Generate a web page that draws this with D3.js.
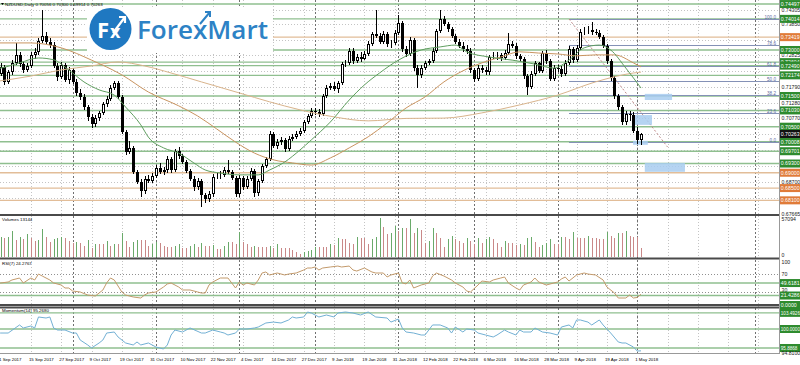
<!DOCTYPE html>
<html><head><meta charset="utf-8">
<script src="https://cdn.jsdelivr.net/npm/d3@7/dist/d3.min.js"></script>
<style>
body{margin:0;background:#fff;}
svg{display:block;font-family:"Liberation Sans",Arial,sans-serif;}
</style></head><body>
<svg id="c" width="800" height="365"></svg>
<script>
// ---------------- DATA ----------------
const symbolTitle = "NZDUSD,Daily";
const lastOHLC = ["0.70056","0.70300","0.69914","0.70263"];
const firstOpen = 0.7245;
const closes = [
0.7235,0.7222,0.7245,0.7196,0.7228,0.7258,0.7284,0.7254,0.7235,0.7248,
0.7284,0.7293,0.7329,0.7346,0.7326,0.7316,0.7248,0.7212,0.7251,0.7202,
0.7235,0.7196,0.7160,0.7147,0.7114,0.7082,0.7059,0.7078,0.7095,0.7124,
0.7140,0.7176,0.7192,0.7147,0.7033,0.6967,0.6981,0.6902,0.6870,0.6840,
0.6880,0.6873,0.6889,0.6915,0.6902,0.6909,0.6945,0.6909,0.6971,0.6954,
0.6935,0.6906,0.6880,0.6853,0.6873,0.6827,0.6814,0.6831,0.6886,0.6889,
0.6893,0.6909,0.6902,0.6883,0.6831,0.6883,0.6853,0.6880,0.6906,0.6834,
0.6873,0.6922,0.6945,0.7026,0.6987,0.7000,0.7007,0.6977,0.7010,0.7016,
0.7026,0.7036,0.7065,0.7085,0.7101,0.7098,0.7091,0.7150,0.7176,0.7183,
0.7173,0.7192,0.7254,0.7258,0.7297,0.7264,0.7277,0.7270,0.7287,0.7320,
0.7352,0.7346,0.7326,0.7352,0.7320,0.7323,0.7355,0.7388,0.7303,0.7287,
0.7333,0.7241,0.7219,0.7241,0.7258,0.7264,0.7297,0.7362,0.7401,0.7385,
0.7369,0.7346,0.7326,0.7313,0.7303,0.7297,0.7235,0.7206,0.7241,0.7235,
0.7228,0.7277,0.7280,0.7283,0.7274,0.7290,0.7320,0.7313,0.7280,0.7271,
0.7215,0.7179,0.7222,0.7258,0.7232,0.7290,0.7264,0.7206,0.7241,0.7238,
0.7222,0.7258,0.7303,0.7267,0.7307,0.7359,0.7362,0.7365,0.7359,0.7356,
0.7342,0.7313,0.7264,0.7209,0.7150,0.7114,0.7065,0.7091,0.7088,0.7036,
0.7006,0.70263];
const highs = [
0.7262,0.7248,0.7256,0.7252,0.7236,0.7266,0.7322,0.7295,0.7262,0.7258,
0.7292,0.7305,0.7340,0.7430,0.7360,0.7340,0.7325,0.7258,0.7262,0.7258,
0.7245,0.7242,0.7205,0.7172,0.7155,0.7120,0.7090,0.7088,0.7102,0.7132,
0.7150,0.7185,0.7200,0.7198,0.7152,0.7040,0.7005,0.6988,0.6910,0.6878,
0.6888,0.6892,0.6898,0.6925,0.6932,0.6920,0.6955,0.6952,0.6978,0.6985,
0.6962,0.6940,0.6912,0.6888,0.6882,0.6880,0.6835,0.6840,0.6895,0.6898,
0.6905,0.6918,0.6942,0.6910,0.6890,0.6892,0.6890,0.6888,0.6915,0.6912,
0.6880,0.6930,0.6952,0.7035,0.7032,0.7010,0.7018,0.7012,0.7020,0.7025,
0.7035,0.7045,0.7072,0.7092,0.7110,0.7112,0.7108,0.7158,0.7185,0.7192,
0.7195,0.7200,0.7262,0.7268,0.7305,0.7305,0.7288,0.7292,0.7298,0.7328,
0.7360,0.7430,0.7355,0.7362,0.7360,0.7332,0.7365,0.7415,0.7395,0.7312,
0.7342,0.7340,0.7250,0.7250,0.7265,0.7272,0.7305,0.7370,0.7430,0.7410,
0.7392,0.7375,0.7352,0.7335,0.7325,0.7315,0.7305,0.7242,0.7250,0.7252,
0.7245,0.7285,0.7295,0.7292,0.7290,0.7300,0.7355,0.7330,0.7322,0.7288,
0.7278,0.7222,0.7230,0.7265,0.7262,0.7298,0.7300,0.7270,0.7250,0.7252,
0.7248,0.7266,0.7312,0.7310,0.7316,0.7368,0.7375,0.7378,0.7391,0.7370,
0.7365,0.7348,0.7320,0.7270,0.7215,0.7158,0.7120,0.7100,0.7102,0.7098,
0.7048,0.70300];
const lows = [
0.7224,0.7210,0.7215,0.7185,0.7190,0.7220,0.7250,0.7245,0.7226,0.7228,
0.7240,0.7272,0.7285,0.7322,0.7318,0.7305,0.7240,0.7200,0.7205,0.7195,
0.7190,0.7188,0.7150,0.7138,0.7105,0.7070,0.7045,0.7050,0.7070,0.7088,
0.7115,0.7133,0.7168,0.7140,0.7025,0.6958,0.6960,0.6895,0.6862,0.6822,
0.6832,0.6865,0.6866,0.6882,0.6895,0.6893,0.6900,0.6900,0.6902,0.6945,
0.6928,0.6898,0.6872,0.6842,0.6845,0.6788,0.6800,0.6805,0.6822,0.6878,
0.6880,0.6885,0.6895,0.6875,0.6822,0.6820,0.6845,0.6848,0.6872,0.6820,
0.6825,0.6866,0.6915,0.6938,0.6980,0.6978,0.6992,0.6968,0.6970,0.7002,
0.7010,0.7020,0.7030,0.7058,0.7078,0.7088,0.7082,0.7085,0.7142,0.7168,
0.7165,0.7160,0.7185,0.7245,0.7250,0.7255,0.7256,0.7262,0.7268,0.7280,
0.7312,0.7338,0.7318,0.7320,0.7310,0.7305,0.7315,0.7348,0.7295,0.7278,
0.7280,0.7232,0.7176,0.7210,0.7235,0.7250,0.7258,0.7290,0.7355,0.7378,
0.7360,0.7338,0.7318,0.7305,0.7295,0.7288,0.7225,0.7195,0.7200,0.7225,
0.7218,0.7220,0.7270,0.7268,0.7265,0.7268,0.7285,0.7305,0.7272,0.7262,
0.7205,0.7153,0.7172,0.7215,0.7225,0.7225,0.7255,0.7198,0.7198,0.7228,
0.7212,0.7215,0.7250,0.7258,0.7260,0.7300,0.7350,0.7352,0.7350,0.7348,
0.7335,0.7305,0.7255,0.7200,0.7140,0.7105,0.7055,0.7055,0.7070,0.7028,
0.6995,0.69914];
const volumes = [
26000,24000,29000,27800,29300,38100,24900,29300,26400,33700,
27800,23400,24900,41000,29300,22000,26400,27800,29300,27800,
23400,20500,22000,20500,16100,24900,13200,19000,19000,19000,
23400,16100,19000,19000,35100,23400,14600,22000,24900,24900,
24900,16100,19000,22000,20500,16100,14600,14600,16100,19000,
13200,13200,16100,19000,14600,20500,16100,16100,17600,11700,
11700,16100,22000,22000,19000,36600,22000,19000,14600,16100,
14600,14600,14600,16100,13200,19000,13200,13200,13200,10250,
7300,4400,7300,8800,10250,14600,14600,14600,14600,19000,
17600,27800,26400,26400,20500,19000,29300,27800,27800,19000,
26400,29300,57094,43900,33700,35100,45400,38100,42500,42500,
55600,35100,42500,39500,20500,23400,42500,35100,27800,14600,
26400,30700,26400,23400,20500,27800,23400,19000,27800,20500,
26400,29300,26400,20500,14600,23400,20500,20500,17600,19000,
17600,27800,29300,22000,14600,17600,20500,26400,19000,19000,
29300,29300,26400,36600,27800,27800,27800,30700,27800,27800,
26400,26400,36600,30700,27800,35100,35100,38100,30700,29300,
29300,13144];
// moving averages: [bar, price]
const maFast = [[0,0.7238],[2,0.7241],[7,0.7258],[12,0.7274],[16,0.7268],[20,0.7235],[24,0.7196],[28,0.7170],[32,0.7153],[35,0.7114],[39,0.7056],[41,0.7016],[45,0.6981],[49,0.6964],[53,0.6932],[56,0.6909],[60,0.6899],[65,0.6893],[70,0.6893],[73,0.6909],[77,0.6935],[81,0.6974],[84,0.7007],[89,0.7065],[94,0.7137],[98,0.7186],[102,0.7225],[107,0.7267],[113,0.7300],[118,0.7310],[122,0.7316],[125,0.7294],[131,0.7277],[137,0.7267],[143,0.7254],[148,0.7241],[152,0.7267],[156,0.7307],[160,0.7316],[163,0.7300],[167,0.7241],[171,0.7176]];
const ma50 = [[0,0.7323],[10,0.7323],[18,0.7307],[26,0.7267],[34,0.7219],[41,0.7163],[49,0.7118],[54,0.7085],[59,0.7043],[64,0.7000],[69,0.6964],[74,0.6942],[79,0.6932],[84,0.6925],[89,0.6948],[94,0.6981],[99,0.7017],[104,0.7062],[109,0.7111],[114,0.7147],[119,0.7196],[124,0.7232],[129,0.7258],[134,0.7277],[139,0.7294],[144,0.7290],[149,0.7287],[154,0.7281],[159,0.7284],[164,0.7284],[169,0.7258],[171,0.7245]];
const ma100 = [[0,0.7196],[10,0.7215],[18,0.7235],[26,0.7248],[33,0.7261],[40,0.7248],[47,0.7225],[55,0.7196],[65,0.7160],[73,0.7131],[81,0.7105],[90,0.7082],[99,0.7069],[109,0.7077],[119,0.7078],[129,0.7095],[139,0.7121],[149,0.7153],[159,0.7196],[169,0.7225],[171,0.7228]];
const rsiPts = [[0,48],[2,49.7],[4,52],[5,56.5],[7,61],[8,49.7],[10,61],[11,56.5],[12,70],[13,65.5],[15,56.5],[16,49.7],[18,45.2],[19,38.4],[20,38.4],[21,31.6],[23,29.4],[25,22.6],[27,20.3],[29,33.9],[30,50],[31,61],[32,56.5],[34,29.4],[35,22.6],[37,18.1],[39,15.8],[40,22.6],[41,27.1],[43,29.4],[45,40.7],[46,47.5],[47,49.7],[49,40.7],[50,33.9],[52,33.9],[54,29.4],[55,27.1],[56,27.1],[57,45.2],[58,52],[60,61],[62,61],[63,49.7],[64,38.4],[65,52],[66,45.2],[67,49.7],[69,45.2],[70,56.5],[71,72.3],[72,74.6],[73,67.8],[75,72.3],[77,67.8],[78,70],[80,72.3],[82,79.1],[83,83.6],[84,83.6],[85,85.9],[86,79.1],[87,83.6],[89,85.9],[91,88],[92,85.9],[94,88],[95,79.1],[96,76.8],[98,83.6],[100,74.6],[101,72.3],[103,72.3],[104,63.3],[105,67.8],[107,72.3],[108,50],[109,47.5],[110,56.5],[111,38.4],[113,45.2],[115,49.7],[116,65.5],[117,72.3],[119,65.5],[121,56.5],[122,49.7],[124,40.7],[125,31.6],[126,29.4],[128,45.2],[129,54.2],[131,52],[132,56.5],[134,61],[135,63.3],[136,49.7],[138,38.4],[139,33.9],[140,45.2],[142,52],[143,61],[144,52],[146,45.2],[148,49.7],[149,52],[150,58.8],[151,63.3],[152,54.2],[154,67.8],[156,72.3],[157,70],[159,67.8],[161,56.5],[162,40.7],[164,27.1],[165,15.8],[167,15.8],[168,22.6],[169,15.8],[170,17],[171,24.2767]];
const momPts = [[0,99.0],[2,99.13],[4,99.13],[7,100.87],[8,100.22],[10,100.65],[11,100.22],[12,102.6],[14,102.38],[15,102.6],[16,100.22],[17,99.78],[19,99.78],[21,99.13],[22,99.13],[23,97.62],[25,96.54],[26,95.89],[28,96.97],[29,97.62],[30,99.13],[32,99.35],[33,98.27],[35,96.97],[37,96.54],[38,97.19],[39,96.54],[41,96.97],[43,96.1],[45,95.67],[46,96.54],[47,98.7],[48,99.78],[50,99.35],[52,100.22],[55,99.13],[56,99.13],[58,99.78],[60,99.35],[61,99.13],[62,98.7],[64,99.13],[65,100],[67,100],[69,100.22],[70,100.43],[72,101.3],[74,101.5],[76,101.3],[78,101.95],[79,102.6],[80,102.38],[82,102.6],[83,103.68],[84,103.46],[86,102.6],[88,103.03],[90,102.6],[91,103.46],[93,103.68],[95,103.46],[97,103.03],[99,103.68],[101,102.6],[104,102.38],[105,101.5],[107,102.16],[108,100.22],[109,99.35],[111,99.13],[113,98.7],[114,98.7],[116,100.87],[118,100.87],[120,100.22],[121,99.13],[122,100.43],[124,99.35],[125,100],[127,99.78],[128,99.13],[130,98.7],[132,98.27],[133,98.7],[135,99.78],[136,99.35],[138,98.7],[139,99.78],[140,99.35],[142,99.35],[143,100.22],[145,99.35],[147,99.13],[149,98.7],[150,100.43],[152,100.87],[153,100.22],[154,101.95],[155,101.95],[157,101.5],[158,100.87],[160,101.95],[161,100.87],[163,99.13],[165,97.19],[166,96.97],[167,96.97],[169,96.1],[170,95.24],[171,95.268]];
const greenLevels = [0.74497,0.74014,0.73000,0.72604,0.72490,0.72174,0.71500,0.71030,0.70500,0.70008,0.69701,0.69300];
const orangeLevels = [0.73419,0.69000,0.68500,0.68100];
const currentPrice = 0.70263;
const priceTicks = [0.74305,0.73850,0.73340,0.72825,0.72315,0.71790,0.71280,0.70770,0.70250,0.69740,0.69210,0.68700,0.68180,0.67665];
const fibLevels = [0,23.6,38.2,50.0,61.8,78.6,100.0];
const fibHigh = 0.7401, fibLow = 0.6999, fibStartBar = 152, fibEndBar = 178;
const tickLabels = ["1 Sep 2017","15 Sep 2017","27 Sep 2017","9 Oct 2017","19 Oct 2017","31 Oct 2017","10 Nov 2017","22 Nov 2017","4 Dec 2017","14 Dec 2017","27 Dec 2017","9 Jan 2018","19 Jan 2018","31 Jan 2018","12 Feb 2018","22 Feb 2018","6 Mar 2018","16 Mar 2018","28 Mar 2018","9 Apr 2018","19 Apr 2018","1 May 2018"];
const tickBars = [0,10,18,26,34,42,50,58,66,74,82,90,98,106,114,122,130,138,146,154,162,170];
const futureGridBars = [178,186,194,202];
const monthBars = [21,43,65,85,107,127,149,170,201];
const rsiLevelsGreen = [49.6181,21.4286];
const rsiLevelsDotted = [70,30];
const momLevels = [103.4926,100.0000,95.8868];
const volMax = 57094;
// highlighted (blurred) label boxes on the chart: [bar0, bar1, priceTop, priceBottom]
const blueBoxes = [[172,179.2,0.7157,0.7137],[169.1,173.9,0.7088,0.7056],[168.9,172.8,0.7004,0.6991],[172,182.6,0.6932,0.6903]];

// ---------------- SCALES ----------------
const PR = 779;
const svg = d3.select('#c');
svg.append('rect').attr('width',800).attr('height',365).attr('fill','#fff');
const xB = d3.scaleLinear().domain([0,171]).range([-7,641]);
const yP = d3.scaleLinear().domain([0.67665,0.74629]).range([213.7,0]);
const yV = d3.scaleLinear().domain([0,volMax]).range([257,218]);
const yR = d3.scaleLinear().domain([0,100]).range([305,260.75]);
const yM = d3.scaleLinear().domain([95.8868,100]).range([348,329]);
const px = i => Math.round(xB(i))+0.5;

const defs = svg.append('defs');
defs.append('clipPath').attr('id','cMain').append('rect').attr('x',0).attr('y',0).attr('width',PR).attr('height',214);
defs.append('clipPath').attr('id','cVol').append('rect').attr('x',0).attr('y',216).attr('width',PR).attr('height',42);
defs.append('clipPath').attr('id','cRsi').append('rect').attr('x',0).attr('y',260).attr('width',PR).attr('height',45);
defs.append('clipPath').attr('id','cMom').append('rect').attr('x',0).attr('y',308).attr('width',PR).attr('height',45);

const gridG = svg.append('g');
tickBars.slice(1).concat(futureGridBars).forEach(b=>{
  gridG.append('line').attr('x1',px(b)).attr('x2',px(b)).attr('y1',0).attr('y2',353)
   .attr('stroke','#c4c4c4').attr('stroke-dasharray','1,2');
});
priceTicks.forEach(p=>{
  const y=Math.round(yP(p))+0.5;
  gridG.append('line').attr('x1',0).attr('x2',PR).attr('y1',y).attr('y2',y)
   .attr('stroke','#c4c4c4').attr('stroke-dasharray','1,2');
});
monthBars.forEach(b=>{
  gridG.append('line').attr('x1',px(b)).attr('x2',px(b)).attr('y1',0).attr('y2',353)
   .attr('stroke','#707070').attr('stroke-dasharray','2,2');
});

// ---------------- MAIN PANEL ----------------
const main = svg.append('g').attr('clip-path','url(#cMain)');
greenLevels.forEach(p=>{
  const y=yP(p);
  main.append('line').attr('x1',0).attr('x2',PR).attr('y1',y).attr('y2',y).attr('stroke','#8fbf8f').attr('stroke-width',1.4);
});
orangeLevels.forEach(p=>{
  const y=yP(p);
  main.append('line').attr('x1',0).attr('x2',PR).attr('y1',y).attr('y2',y).attr('stroke','#e2bd98').attr('stroke-width',1.4);
});
fibLevels.forEach(l=>{
  const p = fibLow + (fibHigh-fibLow)*l/100;
  const y = Math.round(yP(p))+0.5;
  main.append('line').attr('x1',xB(fibStartBar)).attr('x2',PR).attr('y1',y).attr('y2',y).attr('stroke','#8491b6').attr('stroke-width',1);
  main.append('text').attr('x',776).attr('y',y-1).attr('text-anchor','end').attr('font-size',4.6).attr('fill','#5a68a0').text(l.toFixed(1));
});
main.append('line').attr('x1',xB(fibStartBar)).attr('y1',yP(fibHigh)).attr('x2',xB(fibEndBar)).attr('y2',yP(0.6984))
  .attr('stroke','#c08a8a').attr('stroke-dasharray','2,2');
blueBoxes.forEach(b=>{
  main.append('rect').attr('x',xB(b[0])).attr('y',yP(b[2])).attr('width',xB(b[1])-xB(b[0])).attr('height',yP(b[3])-yP(b[2]))
   .attr('fill','#a8cdf0').attr('opacity',0.85);
});

const opens = closes.map((c,i)=> i===0 ? firstOpen : closes[i-1]);
const cg = main.append('g').attr('shape-rendering','crispEdges');
closes.forEach((c,i)=>{
  const o=opens[i], hi=Math.max(highs[i],o,c), lo=Math.min(lows[i],o,c);
  const x=px(i);
  cg.append('line').attr('x1',x).attr('x2',x).attr('y1',yP(hi)).attr('y2',yP(lo)).attr('stroke','#000');
  const yt=Math.round(yP(Math.max(o,c))), yb=Math.round(yP(Math.min(o,c)));
  const h=Math.max(1,yb-yt);
  if(c>=o){
    cg.append('rect').attr('x',x-1).attr('y',yt+0.5).attr('width',2).attr('height',Math.max(0,h-1)).attr('fill','#fff').attr('stroke','#000');
  } else {
    cg.append('rect').attr('x',x-1.5).attr('y',yt).attr('width',3).attr('height',h).attr('fill','#000');
  }
});
const maLine = d3.line().x(d=>xB(d[0])).y(d=>yP(d[1])).curve(d3.curveMonotoneX);
main.append('path').attr('d',maLine(ma100)).attr('fill','none').attr('stroke','#d9b48c').attr('stroke-width',1);
main.append('path').attr('d',maLine(ma50)).attr('fill','none').attr('stroke','#c99460').attr('stroke-width',1);
main.append('path').attr('d',maLine(maFast)).attr('fill','none').attr('stroke','#5f9e5f').attr('stroke-width',1);

// logo
const logo = svg.append('g');
logo.append('rect').attr('x',87).attr('y',7).attr('width',186).attr('height',46).attr('fill','#fff');
logo.append('circle').attr('cx',110.5).attr('cy',29).attr('r',21).attr('fill','#1f78c1');
logo.append('text').attr('x',97).attr('y',38).attr('font-size',22).attr('font-weight','bold').attr('font-family','"Open Sans",sans-serif').attr('fill','#fff').text('F');
logo.append('text').attr('x',110).attr('y',38).attr('font-size',18).attr('font-weight','bold').attr('font-family','"Open Sans",sans-serif').attr('fill','#fff').text('x');
logo.append('path').attr('d','M113,33 L125,17 M119,17 L125,17 L125,23').attr('stroke','#fff').attr('stroke-width',2.2).attr('fill','none');
logo.append('text').attr('x',137).attr('y',39).attr('font-size',26).attr('font-weight',600).attr('font-family','"Open Sans",sans-serif')
  .attr('fill','#2d82c5').attr('textLength',131).attr('lengthAdjust','spacingAndGlyphs').text('ForexMart');
logo.append('path').attr('d','M200,24 L210,12 M205,12 L210,12 L210,17').attr('stroke','#2d82c5').attr('stroke-width',2).attr('fill','none');

svg.append('path').attr('d','M1,3 L4,3 L2.5,5 Z').attr('fill','#000');
svg.append('text').attr('x',5).attr('y',6).attr('font-size',4.4).attr('fill','#000')
  .text(symbolTitle+'  '+lastOHLC.join(' '));

// ---------------- VOLUME ----------------
const vg = svg.append('g').attr('clip-path','url(#cVol)').attr('shape-rendering','crispEdges');
volumes.forEach((v,i)=>{
  const up = i===0 ? true : v>volumes[i-1];
  vg.append('line').attr('x1',px(i)).attr('x2',px(i)).attr('y1',yV(0)).attr('y2',yV(v))
    .attr('stroke', up ? '#6aaa6a' : '#c98888');
});
svg.append('text').attr('x',2).attr('y',221).attr('font-size',4.4).text('Volumes '+volumes[volumes.length-1]);

// ---------------- RSI ----------------
const rg = svg.append('g').attr('clip-path','url(#cRsi)');
rsiLevelsDotted.forEach(l=>{
  const y=Math.round(yR(l))+0.5;
  rg.append('line').attr('x1',0).attr('x2',PR).attr('y1',y).attr('y2',y).attr('stroke','#909090').attr('stroke-dasharray','1,2');
});
rsiLevelsGreen.forEach(l=>{
  const y=yR(l);
  rg.append('line').attr('x1',0).attr('x2',PR).attr('y1',y).attr('y2',y).attr('stroke','#8fbf8f').attr('stroke-width',1.4);
});
const rLine = d3.line().x(d=>xB(d[0])).y(d=>yR(d[1]));
rg.append('path').attr('d',rLine(rsiPts)).attr('fill','none').attr('stroke','#c39a6b').attr('stroke-width',1);
svg.append('text').attr('x',2).attr('y',265).attr('font-size',4.4).text('RSI(7) '+rsiPts[rsiPts.length-1][1].toFixed(4));

// ---------------- MOMENTUM ----------------
const mg = svg.append('g').attr('clip-path','url(#cMom)');
momLevels.forEach(l=>{
  const y=yM(l);
  mg.append('line').attr('x1',0).attr('x2',PR).attr('y1',y).attr('y2',y).attr('stroke','#8fbf8f').attr('stroke-width',1.4);
});
const mLine = d3.line().x(d=>xB(d[0])).y(d=>yM(d[1]));
mg.append('path').attr('d',mLine(momPts)).attr('fill','none').attr('stroke','#72b0d4').attr('stroke-width',1);
svg.append('text').attr('x',2).attr('y',312).attr('font-size',4.4).text('Momentum(14) '+momPts[momPts.length-1][1].toFixed(4));

// ---------------- SEPARATORS ----------------
[[215,2],[258.5,2],[305,2],[307.5,2]].forEach(s=>{
  svg.append('line').attr('x1',0).attr('x2',PR+1).attr('y1',s[0]).attr('y2',s[0]).attr('stroke','#4a4a4a').attr('stroke-width',s[1]);
});
svg.append('line').attr('x1',0).attr('x2',PR).attr('y1',353.5).attr('y2',353.5).attr('stroke','#999');
svg.append('line').attr('x1',PR+0.5).attr('x2',PR+0.5).attr('y1',0).attr('y2',354).attr('stroke','#999');

// ---------------- RIGHT AXIS ----------------
const ax = svg.append('g').attr('font-size',5.2);
function box(y,txt,fill,fs){
  ax.append('rect').attr('x',780).attr('y',y-4).attr('width',20).attr('height',8).attr('fill',fill);
  const t=ax.append('text').attr('x',780.8).attr('y',y+1.9).attr('fill','#fff').text(txt);
  if(fs) t.attr('font-size',fs);
}
function lab(y,txt){
  ax.append('text').attr('x',781.5).attr('y',y+1.9).attr('fill','#222').text(txt);
}
const boxYs = greenLevels.concat(orangeLevels,[currentPrice]).map(p=>yP(p));
priceTicks.forEach(p=>{
  const y=yP(p);
  if(boxYs.some(b=>Math.abs(b-y)<4.5)) return;
  lab(y,p.toFixed(5));
});
greenLevels.forEach(p=>box(yP(p),p.toFixed(5),'#2e8b2e'));
orangeLevels.forEach(p=>box(yP(p),p.toFixed(5),'#e07b39'));
box(yP(currentPrice),currentPrice.toFixed(5),'#111');
lab(219,String(volMax)); lab(255,'0');
lab(262,'100'); lab(274.5,'70'); lab(290.5,'30');
box(yR(rsiLevelsGreen[0]),rsiLevelsGreen[0].toFixed(4),'#2e8b2e');
box(yR(rsiLevelsGreen[1]),rsiLevelsGreen[1].toFixed(4),'#2e8b2e');
box(305,'0.0000','#2e8b2e');
momLevels.forEach(l=>box(yM(l),l.toFixed(4),'#2e8b2e',4.6));
lab(353.5,'94.8100');

// ---------------- DATE AXIS ----------------
const dg = svg.append('g').attr('font-size',4.4).attr('fill','#000');
tickLabels.forEach((t,k)=>{
  dg.append('text').attr('x',Math.max(-1,xB(tickBars[k])-2)).attr('y',361).text(t);
});
</script>
</body></html>
